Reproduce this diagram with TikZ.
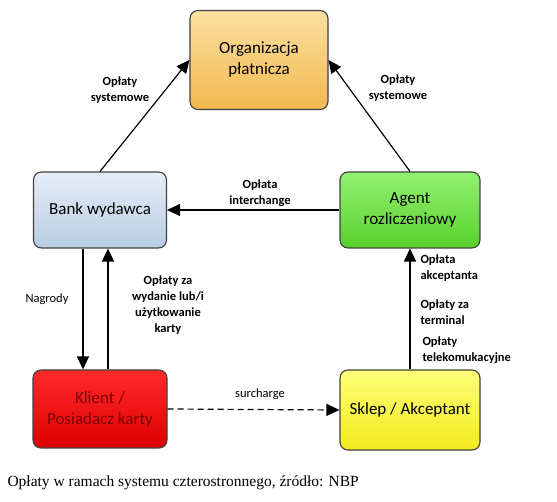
\documentclass[tikz,border=0pt]{standalone}
\usepackage{fontspec}
\setmainfont{Carlito}
\newfontfamily\capfont{Liberation Serif}
\usetikzlibrary{arrows.meta, positioning}

\definecolor{orgtop}{HTML}{FCE0A0}
\definecolor{orgbot}{HTML}{F2B84E}
\definecolor{banktop}{HTML}{E6EDF6}
\definecolor{bankbot}{HTML}{B8CCE4}
\definecolor{agenttop}{HTML}{92F272}
\definecolor{agentbot}{HTML}{58D02C}
\definecolor{klienttop}{HTML}{FF2A2A}
\definecolor{klientbot}{HTML}{DD0000}
\definecolor{klienttxt}{HTML}{7A0000}
\definecolor{skleptop}{HTML}{FFFF78}
\definecolor{sklepbot}{HTML}{F2EA1E}

\begin{document}
\begin{tikzpicture}[
  x=1pt, y=-1pt,
  ebox/.style={draw=black!75, line width=1.1pt, rounded corners=8pt,
               align=center, font=\fontsize{17}{21}\selectfont},
  lbl/.style={font=\fontsize{12.5}{16}\selectfont\bfseries, align=center},
  plbl/.style={font=\fontsize{12.5}{16}\selectfont, align=center},
  arr/.style={-{Triangle[length=13pt, width=12pt]}, line width=1.2pt},
]
\useasboundingbox (0,0) rectangle (557,502);

% --- Participants ---
\node[ebox, minimum width=138pt, minimum height=99pt,
      top color=orgtop, bottom color=orgbot]
  (org) at (259, 60) {Organizacja\\płatnicza};
\node[ebox, minimum width=133pt, minimum height=76pt,
      top color=banktop, bottom color=bankbot]
  (bank) at (100, 210) {Bank wydawca};
\node[ebox, minimum width=140pt, minimum height=76pt,
      top color=agenttop, bottom color=agentbot]
  (agent) at (410, 210) {Agent\\rozliczeniowy};
\node[ebox, minimum width=134pt, minimum height=78pt,
      top color=klienttop, bottom color=klientbot, text=klienttxt]
  (klient) at (100, 409) {Klient /\\Posiadacz karty};
\node[ebox, minimum width=140pt, minimum height=80pt,
      top color=skleptop, bottom color=sklepbot]
  (sklep) at (410, 410) {Sklep / Akceptant};

% --- Fee labels ---
\node[lbl] (sysL) at (120, 90) {Opłaty\\systemowe};
\node[lbl] (sysR) at (398, 88) {Opłaty\\systemowe};
\node[lbl] (ichg) at (260, 193) {Opłata\\interchange};
\node[plbl] (nagr) at (47, 299) {Nagrody};
\node[lbl] (wyd) at (168, 305) {Opłaty za\\wydanie lub/i\\użytkowanie\\karty};
\node[plbl] (surch) at (260, 394) {surcharge};
\node[lbl, align=left, anchor=west] (akc) at (417, 268) {Opłata\\akceptanta};
\node[lbl, align=left, anchor=west] (term) at (417, 312) {Opłaty za\\terminal};
\node[lbl, align=left, anchor=west] (tele) at (419, 350) {Opłaty\\telekomukacyjne};

% --- Flows ---
\draw[arr] (bank.north) -- (org.west);
\draw[arr] (agent.north) -- (org.east);
\draw[arr] (agent.west) -- (bank.east);
\draw[arr] ([xshift=-17pt]bank.south) -- ([xshift=-17pt]klient.north);
\draw[arr] ([xshift=8pt]klient.north) -- ([xshift=8pt]bank.south);
\draw[arr] (sklep.north) -- (agent.south);
\draw[arr, dash pattern=on 6pt off 4pt] (klient.east) -- (sklep.west);

% --- Caption ---
\node[anchor=west, font=\capfont\fontsize{15.5}{18}\selectfont]
  (cap) at (4, 483) {Opłaty w ramach systemu czterostronnego, źródło: NBP};
\end{tikzpicture}
\end{document}
